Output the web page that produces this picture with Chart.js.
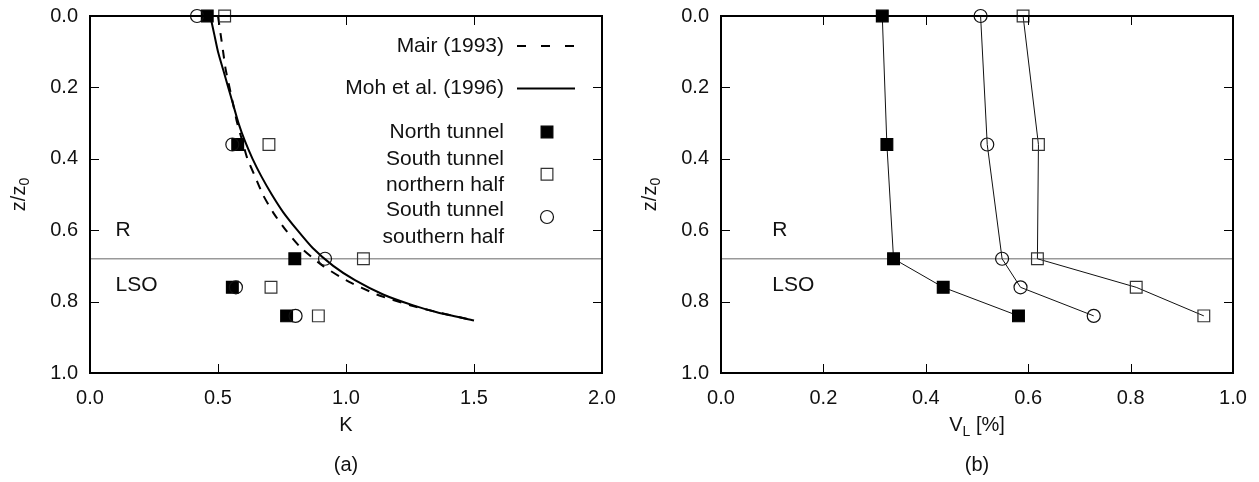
<!DOCTYPE html>
<html>
<head>
<meta charset="utf-8">
<script src="https://cdn.jsdelivr.net/npm/chart.js@4.4.0/dist/chart.umd.min.js"></script>
<style>
  body { margin: 0; background: #fff; width: 1259px; height: 482px; overflow: hidden; position: relative; }
  .panel { position: absolute; top: 0; height: 482px; }
</style>
</head>
<body>
<div class="panel" style="left:0;width:630px"><canvas id="chartK" width="630" height="482"></canvas></div>
<div class="panel" style="left:630px;width:629px"><canvas id="chartV" width="629" height="482"></canvas></div>
<script>
// depths of the measuring sections (z/z0)
const depths = [0.0, 0.36, 0.68, 0.76, 0.84];

// (a) K values
const kNorth  = [0.458, 0.577, 0.800, 0.556, 0.768];
const kSouthN = [0.526, 0.699, 1.068, 0.707, 0.892];
const kSouthS = [0.418, 0.556, 0.918, 0.570, 0.803];

// (b) volume loss V_L [%]
const vlNorth  = [0.315, 0.324, 0.337, 0.434, 0.581];
const vlSouthN = [0.590, 0.620, 0.618, 0.811, 0.943];
const vlSouthS = [0.507, 0.520, 0.549, 0.585, 0.728];

const curveDepths = [0, 0.05, 0.1, 0.15, 0.2, 0.25, 0.3, 0.35, 0.4, 0.45, 0.5, 0.55, 0.6, 0.65, 0.7, 0.74, 0.78, 0.81, 0.83, 0.853];
const kMair = [0.50, 0.51, 0.52, 0.53, 0.545, 0.56, 0.575, 0.595, 0.615, 0.645, 0.675, 0.715, 0.765, 0.825, 0.91, 1.0, 1.12, 1.25, 1.36, 1.50];
const kMoh  = [0.47, 0.485, 0.50, 0.52, 0.54, 0.56, 0.58, 0.605, 0.635, 0.67, 0.71, 0.755, 0.81, 0.87, 0.95, 1.035, 1.145, 1.26, 1.355, 1.50];

const boundaryDepth = 0.68;
const kTicks = [0.5, 1.0, 1.5];
const vlTicks = [0.2, 0.4, 0.6, 0.8];
const depthTicks = [0.2, 0.4, 0.6, 0.8];

const FONT = '"Liberation Sans", Arial, sans-serif';
const INK = '#111';

const toPoints = (xs, ys) => xs.map((x, i) => ({ x: x, y: ys[i] }));

function markerSet(label, xs, style, line) {
  const base = {
    label: label,
    data: toPoints(xs, depths),
    showLine: !!line,
    clip: false,
    borderColor: '#111',
    borderWidth: 1,
    pointBorderWidth: 1.2,
    pointHoverRadius: 0
  };
  if (style === 'filled') {
    return Object.assign(base, { pointStyle: 'rect', pointRadius: 8.3, pointBackgroundColor: '#000', pointBorderColor: '#000' });
  }
  if (style === 'open') {
    return Object.assign(base, { pointStyle: 'rect', pointRadius: 8.3, pointBackgroundColor: 'rgba(0,0,0,0)', pointBorderColor: '#333' });
  }
  return Object.assign(base, { pointStyle: 'circle', pointRadius: 6.5, pointBackgroundColor: 'rgba(0,0,0,0)', pointBorderColor: '#111' });
}

function boundarySet(xmax) {
  return {
    label: 'boundary',
    data: [{ x: 0, y: boundaryDepth }, { x: xmax, y: boundaryDepth }],
    showLine: true, borderColor: '#999', borderWidth: 1.5, pointRadius: 0
  };
}

// frame, inward ticks, region labels and axis titles
function framePlugin(opts) {
  return {
    id: 'frame',
    afterDraw(chart) {
      const ctx = chart.ctx, a = chart.chartArea;
      const xs = chart.scales.x, ys = chart.scales.y;
      ctx.save();
      ctx.strokeStyle = '#000';
      ctx.lineWidth = 1;
      opts.xTicks.forEach(v => {
        const px = Math.round(xs.getPixelForValue(v)) + 0.5;
        ctx.beginPath();
        ctx.moveTo(px, a.bottom); ctx.lineTo(px, a.bottom - 9);
        ctx.moveTo(px, a.top); ctx.lineTo(px, a.top + 9);
        ctx.stroke();
      });
      depthTicks.forEach(v => {
        const py = Math.round(ys.getPixelForValue(v)) + 0.5;
        ctx.beginPath();
        ctx.moveTo(a.left, py); ctx.lineTo(a.left + 9, py);
        ctx.moveTo(a.right, py); ctx.lineTo(a.right - 9, py);
        ctx.stroke();
      });
      ctx.lineWidth = 2;
      ctx.strokeRect(a.left, a.top, a.right - a.left, a.bottom - a.top);

      ctx.fillStyle = INK;
      ctx.font = '21px ' + FONT;
      ctx.textBaseline = 'middle';
      ctx.textAlign = 'left';
      const lx = xs.getPixelForValue(opts.regionX);
      ctx.fillText('R', lx, ys.getPixelForValue(0.60));
      ctx.fillText('LSO', lx, ys.getPixelForValue(0.755));

      // x title and panel letter
      const cx = (a.left + a.right) / 2;
      ctx.textAlign = 'center';
      ctx.font = '20px ' + FONT;
      if (opts.xSub) {
        ctx.textAlign = 'left';
        const mainW = ctx.measureText(opts.xTitle).width;
        ctx.font = '14px ' + FONT;
        const subW = ctx.measureText(opts.xSub).width;
        ctx.font = '20px ' + FONT;
        const restW = ctx.measureText(opts.xRest).width;
        let x0 = cx - (mainW + subW + restW) / 2;
        ctx.fillText(opts.xTitle, x0, 425);
        ctx.font = '14px ' + FONT;
        ctx.fillText(opts.xSub, x0 + mainW, 432);
        ctx.font = '20px ' + FONT;
        ctx.fillText(opts.xRest, x0 + mainW + subW, 425);
      } else {
        ctx.fillText(opts.xTitle, cx, 425);
      }
      ctx.textAlign = 'center';
      ctx.fillText(opts.letter, cx, 465);

      // y title z/z0, rotated
      const cy = (a.top + a.bottom) / 2;
      ctx.translate(a.left - 71, cy);
      ctx.rotate(-Math.PI / 2);
      ctx.textAlign = 'left';
      ctx.font = '20px ' + FONT;
      const w1 = ctx.measureText('z/z').width;
      ctx.font = '14px ' + FONT;
      const w2 = ctx.measureText('0').width;
      const s = -(w1 + w2) / 2;
      ctx.font = '20px ' + FONT;
      ctx.fillText('z/z', s, 0);
      ctx.font = '14px ' + FONT;
      ctx.fillText('0', s + w1, 6);
      ctx.restore();
    }
  };
}

// legend of panel (a)
const legendPlugin = {
  id: 'legendK',
  afterDraw(chart) {
    const ctx = chart.ctx, a = chart.chartArea;
    const tx = a.left + 414, mx = a.left + 457;
    ctx.save();
    ctx.fillStyle = INK;
    ctx.font = '21px ' + FONT;
    ctx.textAlign = 'right';
    ctx.textBaseline = 'middle';
    const rows = [
      ['Mair (1993)', 30], ['Moh et al. (1996)', 72.6], ['North tunnel', 116],
      ['South tunnel', 143.6], ['northern half', 169.3],
      ['South tunnel', 194.3], ['southern half', 221]
    ];
    rows.forEach(r => ctx.fillText(r[0], tx, a.top + r[1]));

    ctx.strokeStyle = '#000';
    ctx.lineWidth = 2;
    ctx.setLineDash([9, 15]);
    ctx.beginPath(); ctx.moveTo(a.left + 427, a.top + 30); ctx.lineTo(a.left + 485, a.top + 30); ctx.stroke();
    ctx.setLineDash([]);
    ctx.beginPath(); ctx.moveTo(a.left + 427, a.top + 72.6); ctx.lineTo(a.left + 485, a.top + 72.6); ctx.stroke();

    const h = Chart.helpers;
    ctx.fillStyle = '#000'; ctx.strokeStyle = '#000'; ctx.lineWidth = 1.2;
    h.drawPoint(ctx, { pointStyle: 'rect', radius: 8.3, borderWidth: 1.2 }, mx, a.top + 116);
    ctx.fillStyle = 'rgba(0,0,0,0)'; ctx.strokeStyle = '#333';
    h.drawPoint(ctx, { pointStyle: 'rect', radius: 8.3, borderWidth: 1.2 }, mx, a.top + 158.3);
    ctx.strokeStyle = '#111';
    h.drawPoint(ctx, { pointStyle: 'circle', radius: 6.5, borderWidth: 1.2 }, mx, a.top + 201);
    ctx.restore();
  }
};

function axes(xmax, widthY) {
  return {
    x: {
      type: 'linear', min: 0, max: xmax,
      grid: { display: false, drawTicks: false }, border: { display: false },
      ticks: { stepSize: xmax / (xmax === 2 ? 4 : 5), padding: 13, color: INK, font: { family: FONT, size: 20 },
               callback: v => Number(v).toFixed(1) },
      afterFit: s => { s.height = 109; s.paddingLeft = 0; s.paddingRight = 0; }
    },
    y: {
      type: 'linear', min: 0, max: 1, reverse: true,
      grid: { display: false, drawTicks: false }, border: { display: false },
      ticks: { stepSize: 0.2, padding: 12, color: INK, font: { family: FONT, size: 20 },
               callback: v => Number(v).toFixed(1) },
      afterFit: s => { s.width = widthY; s.paddingTop = 0; s.paddingBottom = 0; }
    }
  };
}

const common = {
  responsive: false, animation: false, devicePixelRatio: 1,
  plugins: { legend: { display: false }, tooltip: { enabled: false } }
};

new Chart(document.getElementById('chartK'), {
  type: 'scatter',
  data: {
    datasets: [
      markerSet('South tunnel southern half', kSouthS, 'circle', false),
      markerSet('North tunnel', kNorth, 'filled', false),
      markerSet('South tunnel northern half', kSouthN, 'open', false),
      { label: 'Moh et al. (1996)', data: toPoints(kMoh, curveDepths), showLine: true, borderColor: '#000', borderWidth: 2, pointRadius: 0, tension: 0.2 },
      { label: 'Mair (1993)', data: toPoints(kMair, curveDepths), showLine: true, borderColor: '#000', borderWidth: 2, borderDash: [9, 8], pointRadius: 0, tension: 0.2 },
      boundarySet(2.0)
    ]
  },
  options: Object.assign({}, common, {
    layout: { padding: { left: 0, top: 16, right: 28, bottom: 0 } },
    scales: axes(2.0, 90)
  }),
  plugins: [framePlugin({ xTicks: kTicks, regionX: 0.1, xTitle: 'K', letter: '(a)' }), legendPlugin]
});

new Chart(document.getElementById('chartV'), {
  type: 'scatter',
  data: {
    datasets: [
      markerSet('North tunnel', vlNorth, 'filled', true),
      markerSet('South tunnel southern half', vlSouthS, 'circle', true),
      markerSet('South tunnel northern half', vlSouthN, 'open', true),
      boundarySet(1.0)
    ]
  },
  options: Object.assign({}, common, {
    layout: { padding: { left: 0, top: 16, right: 26, bottom: 0 } },
    scales: axes(1.0, 91)
  }),
  plugins: [framePlugin({ xTicks: vlTicks, regionX: 0.1, xTitle: 'V', xSub: 'L', xRest: ' [%]', letter: '(b)' })]
});
</script>
</body>
</html>
